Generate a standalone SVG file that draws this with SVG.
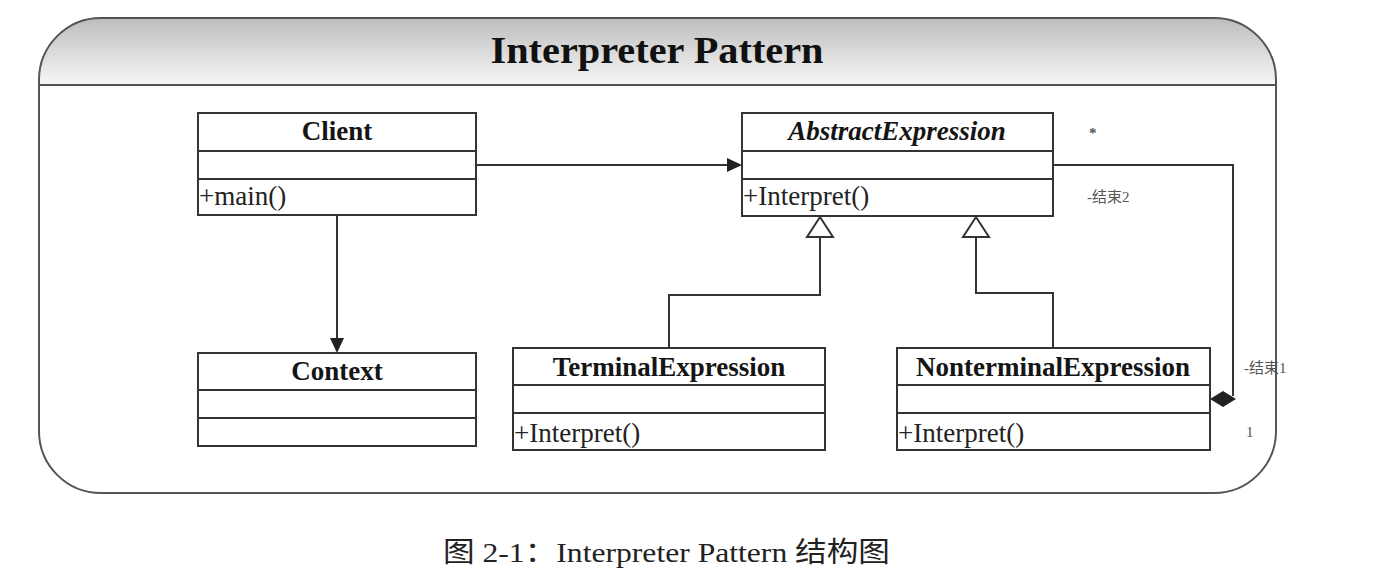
<svg xmlns="http://www.w3.org/2000/svg" width="1383" height="575" viewBox="0 0 1383 575">
<defs>
<linearGradient id="hdr" x1="0" y1="0" x2="0" y2="1">
<stop offset="0" stop-color="#bdbdbd"/>
<stop offset="1" stop-color="#f7f7f7"/>
</linearGradient>
<style>
.box{fill:#fff;stroke:#333;stroke-width:2}
.div{stroke:#333;stroke-width:2}
.con{fill:none;stroke:#333;stroke-width:2}
.head{fill:#222}
.gen{fill:#fff;stroke:#333;stroke-width:2}
.name{font-family:"Liberation Serif",serif;font-weight:bold;font-size:27px;fill:#151515;text-anchor:middle}
.op{font-family:"Liberation Serif",serif;font-size:27px;fill:#222}
.lbl{font-family:"Liberation Serif","Noto Sans CJK SC",serif;font-size:15px;fill:#555}
</style>
</defs>
<rect width="1383" height="575" fill="#fff"/>
<g id="frame">
<path d="M39,85 V80 A62,62 0 0 1 101,18 H1214 A62,62 0 0 1 1276,80 V85 Z" fill="url(#hdr)"/>
<path d="M101,18 H1214 A62,62 0 0 1 1276,80 V431 A62,62 0 0 1 1214,493 H101 A62,62 0 0 1 39,431 V80 A62,62 0 0 1 101,18 Z" fill="none" stroke="#555" stroke-width="2"/>
<line x1="39" y1="85" x2="1276" y2="85" stroke="#555" stroke-width="2"/>
<text x="657" y="63" font-family="Liberation Serif, serif" font-weight="bold" font-size="38" fill="#111" text-anchor="middle" textLength="333" lengthAdjust="spacingAndGlyphs">Interpreter Pattern</text>
</g>
<g id="connectors">
<line class="con" x1="337" y1="215" x2="337" y2="339"/>
<polygon class="head" points="330,338 344,338 337,353"/>
<line class="con" x1="476" y1="165" x2="728" y2="165"/>
<polygon class="head" points="727,158 727,172 742,165"/>
<polyline class="con" points="669,348 669,295 820,295 820,237"/>
<polygon class="gen" points="820,217 807,237 833,237"/>
<polyline class="con" points="1053,348 1053,293 976,293 976,237"/>
<polygon class="gen" points="976,217 963,237 989,237"/>
<polyline class="con" points="1053,165 1233,165 1233,396"/>
<polygon class="head" points="1210,399 1223,391 1236,399 1223,407"/>
<text class="lbl" x="1089" y="138" font-size="18" font-weight="bold">*</text>
<text class="lbl" x="1087" y="202">-结束2</text>
<text class="lbl" x="1244" y="373">-结束1</text>
<text class="lbl" x="1246" y="437">1</text>
</g>
<g id="client">
<rect class="box" x="198" y="113" width="278" height="102"/>
<line class="div" x1="198" y1="151" x2="476" y2="151"/>
<line class="div" x1="198" y1="179" x2="476" y2="179"/>
<text class="name" x="337" y="140">Client</text>
<text class="op" x="199" y="205">+main()</text>
</g>
<g id="context">
<rect class="box" x="198" y="353" width="278" height="93"/>
<line class="div" x1="198" y1="390" x2="476" y2="390"/>
<line class="div" x1="198" y1="418" x2="476" y2="418"/>
<text class="name" x="337" y="380">Context</text>
</g>
<g id="abstractexpression">
<rect class="box" x="742" y="113" width="311" height="103"/>
<line class="div" x1="742" y1="151" x2="1053" y2="151"/>
<line class="div" x1="742" y1="179" x2="1053" y2="179"/>
<text class="name" x="897" y="140" font-style="italic">AbstractExpression</text>
<text class="op" x="743" y="205">+Interpret()</text>
</g>
<g id="terminalexpression">
<rect class="box" x="513" y="348" width="312" height="102"/>
<line class="div" x1="513" y1="385" x2="825" y2="385"/>
<line class="div" x1="513" y1="413" x2="825" y2="413"/>
<text class="name" x="669" y="376">TerminalExpression</text>
<text class="op" x="514" y="442">+Interpret()</text>
</g>
<g id="nonterminalexpression">
<rect class="box" x="897" y="348" width="313" height="102"/>
<line class="div" x1="897" y1="385" x2="1210" y2="385"/>
<line class="div" x1="897" y1="413" x2="1210" y2="413"/>
<text class="name" x="1053" y="376">NonterminalExpression</text>
<text class="op" x="898" y="442">+Interpret()</text>
</g>
<text x="443" y="562" font-family="Liberation Serif, Noto Sans CJK SC, serif" font-size="28" fill="#222" textLength="447" lengthAdjust="spacingAndGlyphs">图 2-1：Interpreter Pattern 结构图</text>
</svg>
